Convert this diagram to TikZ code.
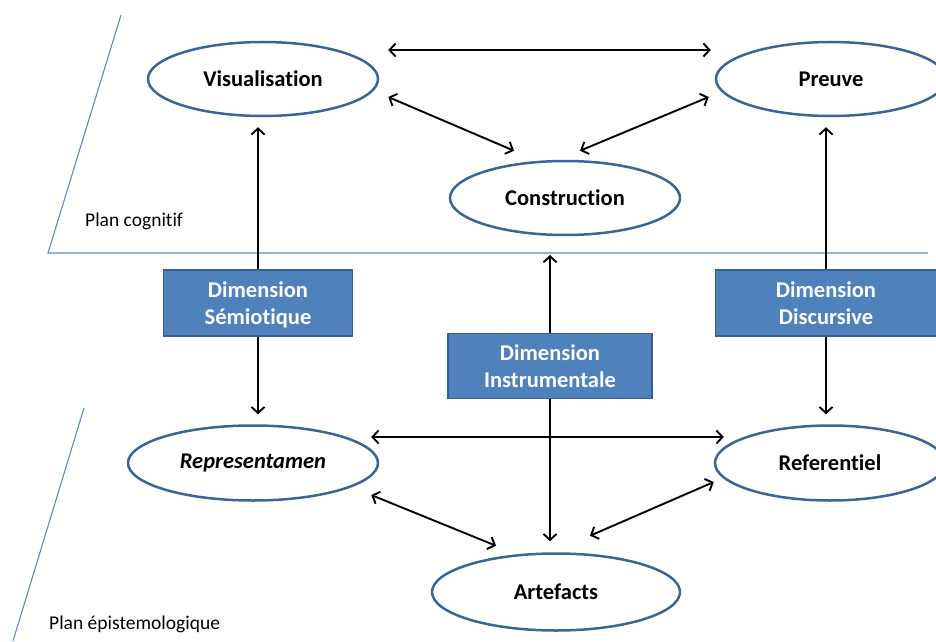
\documentclass[tikz,border=0pt]{standalone}
\usepackage{fontspec}
\setmainfont{Carlito}[Ligatures={NoCommon,NoContextual},RawFeature={-liga;-calt;-dlig}]
\usepackage{tikz}
\usetikzlibrary{arrows.meta,shapes.geometric,calc}
\definecolor{edge}{HTML}{3C6494}
\definecolor{dimfill}{HTML}{4F81BD}
\definecolor{dimline}{HTML}{3A5F8E}
\definecolor{plane}{HTML}{5B8BC6}

\begin{document}
\begin{tikzpicture}[x=1pt,y=1pt,>={Straight Barb[length=6pt,width=13pt]},
 el/.style={ellipse,draw=edge,line width=2.5pt,fill=white,minimum width=230pt,minimum height=74pt,inner sep=0pt,font=\fontsize{22.5}{27}\selectfont\bfseries},
 dim/.style={rectangle,draw=dimline,line width=1.8pt,fill=dimfill,text=white,align=center,minimum height=66pt,inner sep=0pt,font=\fontsize{22.5}{27}\selectfont\bfseries},
 a/.style={->,line width=1.9pt,color=black},
 plan/.style={draw=plane,line width=1.1pt},
 lbl/.style={anchor=west,inner sep=0pt,font=\fontsize{19.5}{23}\selectfont}]
 \useasboundingbox (0,0) rectangle (936,641);
 % planes
 \coordinate (cog) at (48,388);
 \draw[plan] (121,626) -- (cog) -- (928,388);
 \draw[plan] (84,233) -- (13,0);
 \node[lbl] (pc) at (85,420) {Plan cognitif};
 \node[lbl] (pe) at (49,17) {Plan épistemologique};
 % cognitive level
 \node[el] (vis) at (263,562) {Visualisation};
 \node[el] (pre) at (831,562) {Preuve};
 \node[el] (con) at (565,443) {Construction};
 % epistemological level
 \node[el,minimum width=250pt,minimum height=75pt] (rep) at (253,178) {\itshape Representamen};
 \node[el,minimum height=75pt] (ref) at (830,178) {Referentiel};
 \node[el,minimum width=248pt,minimum height=77pt] (art) at (556,49) {Artefacts};
 % dimensions
 \node[dim,minimum width=189pt] (sem) at (258,338) {Dimension\\\smash{Sémiotique}};
 \node[dim,minimum width=204pt,minimum height=65pt] (ins) at (550,275) {Dimension\\Instrumentale};
 \node[dim,minimum width=221pt] (dis) at (826,338) {Dimension\\Discursive};
 % arrows
 \draw[a,<->] ([shift={(9,29)}]vis.east) -- ([shift={(-4,29)}]pre.west);
 \draw[a,<->] ([shift={(9,-18)}]vis.east) -- ([shift={(-51,9)}]con.north);
 \draw[a,<->] ([shift={(-6,-18)}]pre.west) -- ([shift={(15,9)}]con.north);
 \draw[a,shorten >=10pt] (sem.north) -- (sem.north |- vis.south);
 \draw[a,shorten >=10pt] (sem.south) -- (sem.south |- rep.north);
 \draw[a,shorten >=10pt] (dis.north) -- (dis.north |- pre.south);
 \draw[a,shorten >=10pt] (dis.south) -- (dis.south |- ref.north);
 \draw[a,shorten >=2pt] (ins.north) -- (ins.north |- cog);
 \draw[a,shorten >=11pt] (ins.south) -- (ins.south |- art.north);
 \draw[a,<->] ([shift={(-8,26)}]rep.east) -- ([shift={(10,26)}]ref.west);
 \draw[a,<->] ([shift={(-8,-32)}]rep.east) -- ([shift={(-60,6.5)}]art.north);
 \draw[a,<->] ([shift={(0,-19)}]ref.west) -- ([shift={(34,16.5)}]art.north);
\end{tikzpicture}
\end{document}
